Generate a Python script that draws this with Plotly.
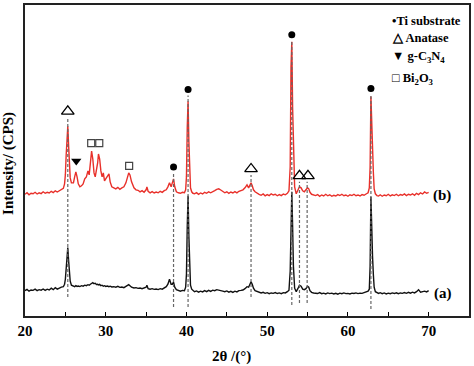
import plotly.graph_objects as go

# ---------------- data ----------------
two_theta = [
    20.0, 20.25, 20.5, 20.75, 21.0, 21.25, 21.5, 21.75, 22.0, 22.25, 22.5, 22.75, 23.0, 23.25, 23.5, 23.75, 24.0, 24.25, 24.5,
    24.75, 24.9, 25.0, 25.1, 25.2, 25.3, 25.4, 25.5, 25.6, 25.75,
    26.0, 26.15, 26.3, 26.45, 26.6, 26.8, 27.0, 27.2, 27.4, 27.6, 27.8, 27.95, 28.1, 28.25, 28.4, 28.55, 28.7, 28.85, 29.0, 29.1, 29.25,
    29.4, 29.55, 29.7, 29.85, 30.0, 30.2, 30.4, 30.55, 30.75,
    31.0, 31.25, 31.5, 31.75, 32.0, 32.25, 32.5, 32.7, 32.85, 33.0, 33.2, 33.5, 33.75, 34.0, 34.25, 34.5, 34.75, 35.0, 35.1, 35.25,
    35.5, 35.75, 36.0, 36.25, 36.5, 36.75, 37.0, 37.25, 37.5,
    37.7, 37.9, 38.1, 38.25, 38.4, 38.55, 38.75, 39.0, 39.25, 39.5,
    39.75, 39.9, 40.0, 40.1, 40.2, 40.3, 40.4, 40.5, 40.65, 40.8,
    41.0, 41.25, 41.5, 41.75, 42.0, 42.25, 42.5, 42.75, 43.0, 43.25, 43.5, 43.75, 44.0, 44.25, 44.5, 44.75, 45.0, 45.25, 45.5, 45.75,
    46.0, 46.25, 46.5, 46.75, 47.0, 47.25, 47.5,
    47.7, 47.85, 48.0, 48.15, 48.3, 48.5, 48.75,
    49.0, 49.25, 49.5, 49.75, 50.0, 50.25, 50.5, 50.75, 51.0, 51.25, 51.5, 51.75, 52.0, 52.25, 52.5,
    52.7, 52.85, 52.95, 53.05, 53.15, 53.25, 53.4, 53.6,
    53.8, 54.0, 54.2, 54.4, 54.6, 54.8, 55.0, 55.15, 55.3, 55.5, 55.75,
    56.0, 56.25, 56.5, 56.75, 57.0, 57.25, 57.5, 57.75, 58.0, 58.25, 58.5, 58.75, 59.0, 59.25, 59.5, 59.75, 60.0, 60.25, 60.5, 60.75,
    61.0, 61.25, 61.5, 61.75, 62.0, 62.25, 62.5,
    62.65, 62.75, 62.85, 62.95, 63.05, 63.15, 63.25, 63.4, 63.6,
    63.8, 64.0, 64.25, 64.5, 64.75, 65.0, 65.25, 65.5, 65.75, 66.0, 66.25, 66.5, 66.75, 67.0, 67.25, 67.5, 67.75, 68.0, 68.25, 68.5,
    68.75, 69.0, 69.25, 69.5, 69.75, 70.0,
]

intensity_a = [
    255, 268, 250, 262, 258, 270, 255, 265, 260, 272, 258, 270, 262, 280, 265, 285, 270, 282, 290,
    295, 320, 370, 480, 640, 690, 560, 420, 350, 310,
    300, 295, 305, 298, 302, 296, 305, 300, 310, 305, 315, 310, 320, 330, 335, 325, 330, 318, 320, 312, 318,
    305, 310, 300, 305, 298, 302, 295, 300, 292,
    295, 290, 298, 288, 292, 285, 295, 310, 315, 305, 290, 282, 285, 278, 282, 275, 280, 290, 310, 275,
    270, 275, 268, 272, 266, 275, 270, 285, 295,
    320, 370, 320, 320, 340, 290, 265, 255, 250, 258,
    255, 290, 420, 900, 1210, 800, 430, 310, 270, 255,
    245, 252, 240, 250, 242, 255, 245, 258, 248, 260, 255, 265, 262, 258, 250, 245, 252, 240, 248, 238,
    250, 242, 255, 258, 262, 275, 295,
    290, 330, 345, 320, 280, 255, 245,
    240, 232, 238, 228, 235, 225, 232, 228, 236, 226, 232, 225, 235, 232, 245,
    260, 450, 1000, 1250, 900, 500, 280, 245,
    275, 310, 300, 270, 265, 275, 300, 290, 255, 238, 232,
    232, 226, 235, 224, 230, 222, 232, 225, 230, 222, 228, 220, 230, 224, 232, 225, 228, 222, 230, 226,
    232, 225, 230, 228, 235, 240, 250,
    270, 500, 1200, 800, 600, 420, 290, 245, 232,
    228, 235, 225, 232, 222, 230, 224, 232, 226, 234, 225, 232, 228, 236, 228, 238, 230, 240, 232, 245,
    265, 240, 245, 250, 242, 255,
]

intensity_b = [
    1225, 1240, 1220, 1235, 1230, 1245, 1228, 1240, 1232, 1250, 1235, 1245, 1238, 1255, 1242, 1260, 1248, 1262, 1270,
    1285, 1330, 1420, 1620, 1850, 1910, 1720, 1500, 1390, 1340,
    1340, 1400, 1450, 1400, 1330, 1300, 1310, 1330, 1380, 1400, 1460, 1420, 1560, 1660, 1580, 1440, 1400, 1460, 1540, 1630, 1580,
    1460, 1400, 1440, 1360, 1380, 1410, 1430, 1350, 1300,
    1290, 1280, 1295, 1275, 1290, 1300, 1340, 1400, 1440, 1420, 1350, 1290, 1270, 1265, 1250, 1262, 1245, 1270, 1300, 1255,
    1240, 1252, 1238, 1248, 1240, 1255, 1245, 1262, 1270,
    1300, 1340, 1300, 1340, 1380, 1300, 1250, 1240, 1235, 1245,
    1240, 1270, 1400, 1900, 2160, 1750, 1400, 1290, 1250, 1235,
    1230, 1242, 1225, 1238, 1228, 1245, 1235, 1250, 1240, 1255, 1262, 1275, 1280, 1268, 1255, 1240, 1250, 1235, 1248, 1238,
    1252, 1240, 1255, 1262, 1270, 1290, 1320,
    1290, 1320, 1340, 1310, 1270, 1250, 1235,
    1225, 1215, 1228, 1210, 1222, 1212, 1230, 1218, 1225, 1210, 1222, 1212, 1228, 1220, 1235,
    1260, 1500, 2500, 2760, 2100, 1600, 1300, 1230,
    1260, 1300, 1290, 1260, 1250, 1265, 1290, 1280, 1245, 1225, 1215,
    1212, 1222, 1205, 1218, 1208, 1225, 1210, 1220, 1205, 1215, 1208, 1222, 1212, 1225, 1210, 1218, 1205, 1220, 1212, 1225,
    1210, 1218, 1208, 1222, 1215, 1228, 1240,
    1290, 1500, 2210, 1900, 1700, 1450, 1280, 1230, 1212,
    1208, 1220, 1205, 1218, 1210, 1225, 1208, 1220, 1212, 1225, 1210, 1222, 1215, 1228, 1212, 1225, 1218, 1230, 1215, 1235,
    1222, 1240, 1228, 1248, 1235, 1245,
]

# phase markers
ti_pos = [38.4, 40.2, 53.05, 62.85]
ti_mark = [1500, 2280, 2830, 2290]
anatase_pos = [25.3, 48.0, 54.0, 55.05]
anatase_mark = [2060, 1480, 1410, 1410]
gcn_pos = [26.35]
gcn_mark = [1560]
bi_pos = [28.2, 29.2, 32.9]
bi_mark = [1740, 1740, 1510]

# dashed guide lines (position, top, bottom)
guide_pos = [25.3, 38.4, 40.2, 48.0, 53.05, 54.0, 54.95, 62.85]
guide_top = [1990, 1440, 2220, 1420, 2770, 1350, 1350, 2230]
guide_bottom = [190, 90, 90, 190, 110, 130, 130, 70]

legend_items = ["\u2022Ti substrate", "\u25b3 Anatase", "\u25bc g-C<sub>3</sub>N<sub>4</sub>", "\u25a1 Bi<sub>2</sub>O<sub>3</sub>"]
legend_y = [2970, 2800, 2610, 2390]

x_ticks = [20, 30, 40, 50, 60, 70]

# ---------------- figure ----------------
SERIF = "Liberation Serif, Times New Roman, serif"
fig = go.Figure()

fig.add_trace(go.Scatter(x=two_theta, y=intensity_a, mode="lines",
                         line=dict(color="#111111", width=1.4), showlegend=False))
fig.add_trace(go.Scatter(x=two_theta, y=intensity_b, mode="lines",
                         line=dict(color="#e8302a", width=1.4), showlegend=False))

for p, t, b in zip(guide_pos, guide_top, guide_bottom):
    fig.add_trace(go.Scatter(x=[p, p], y=[b, t], mode="lines",
                             line=dict(color="#666666", width=1.2, dash="3px,2px"),
                             showlegend=False, hoverinfo="skip"))

fig.add_trace(go.Scatter(x=ti_pos, y=ti_mark, mode="markers",
                         marker=dict(symbol="circle", size=7, color="black"), showlegend=False))
fig.add_trace(go.Scatter(x=anatase_pos, y=anatase_mark, mode="markers",
                         marker=dict(symbol="triangle-up-open", size=11, color="black",
                                     line=dict(width=1.3)), showlegend=False))
fig.add_trace(go.Scatter(x=gcn_pos, y=gcn_mark, mode="markers",
                         marker=dict(symbol="triangle-down", size=9, color="black"), showlegend=False))
fig.add_trace(go.Scatter(x=bi_pos, y=bi_mark, mode="markers",
                         marker=dict(symbol="square-open", size=7, color="#444444",
                                     line=dict(width=1.2)), showlegend=False))

for txt, yy in zip(legend_items, legend_y):
    fig.add_annotation(x=65.2, y=yy, xref="x", yref="y", text=txt, showarrow=False,
                       xanchor="left", yanchor="middle",
                       font=dict(family=SERIF, size=12.5, color="black", weight="bold"))

fig.add_annotation(x=71.7, y=1210, xref="x", yref="y", text="(b)", showarrow=False,
                   xanchor="center", yanchor="middle",
                   font=dict(family=SERIF, size=15, color="black", weight="bold"))
fig.add_annotation(x=71.8, y=230, xref="x", yref="y", text="(a)", showarrow=False,
                   xanchor="center", yanchor="middle",
                   font=dict(family=SERIF, size=15, color="black", weight="bold"))

# axis titles
fig.add_annotation(x=45.6, y=-0.131, xref="x", yref="paper", text="2\u03b8 /(\u00b0)", showarrow=False,
                   xanchor="center", yanchor="middle",
                   font=dict(family=SERIF, size=15, color="black", weight="bold"))
fig.add_annotation(x=-0.036, y=0.489, xref="paper", yref="paper", text="Intensity/ (CPS)",
                   showarrow=False, textangle=-90, xanchor="center", yanchor="middle",
                   font=dict(family=SERIF, size=15, color="black", weight="bold"))

fig.update_xaxes(range=[20, 75], tickvals=x_ticks, ticktext=[str(v) for v in x_ticks],
                 ticks="inside", ticklen=4, tickwidth=1.2, tickcolor="black",
                 minor=dict(dtick=5, tick0=20, ticks="inside", ticklen=4, tickwidth=1.2, tickcolor="black"),
                 showline=True, linecolor="#222222", linewidth=1.5, mirror=True,
                 showgrid=False, zeroline=False,
                 tickfont=dict(family=SERIF, size=15, color="black", weight="bold"))
fig.update_yaxes(range=[0, 3130], showticklabels=False, ticks="",
                 showline=True, linecolor="#222222", linewidth=1.5, mirror=True,
                 showgrid=False, zeroline=False)

fig.update_layout(width=474, height=366, margin=dict(l=25, r=3, t=3, b=50),
                  plot_bgcolor="white", paper_bgcolor="white", showlegend=False)

fig.write_html("out.html", config={"displayModeBar": False},
               post_script="document.body.style.margin='0';document.body.style.overflow='hidden';")
